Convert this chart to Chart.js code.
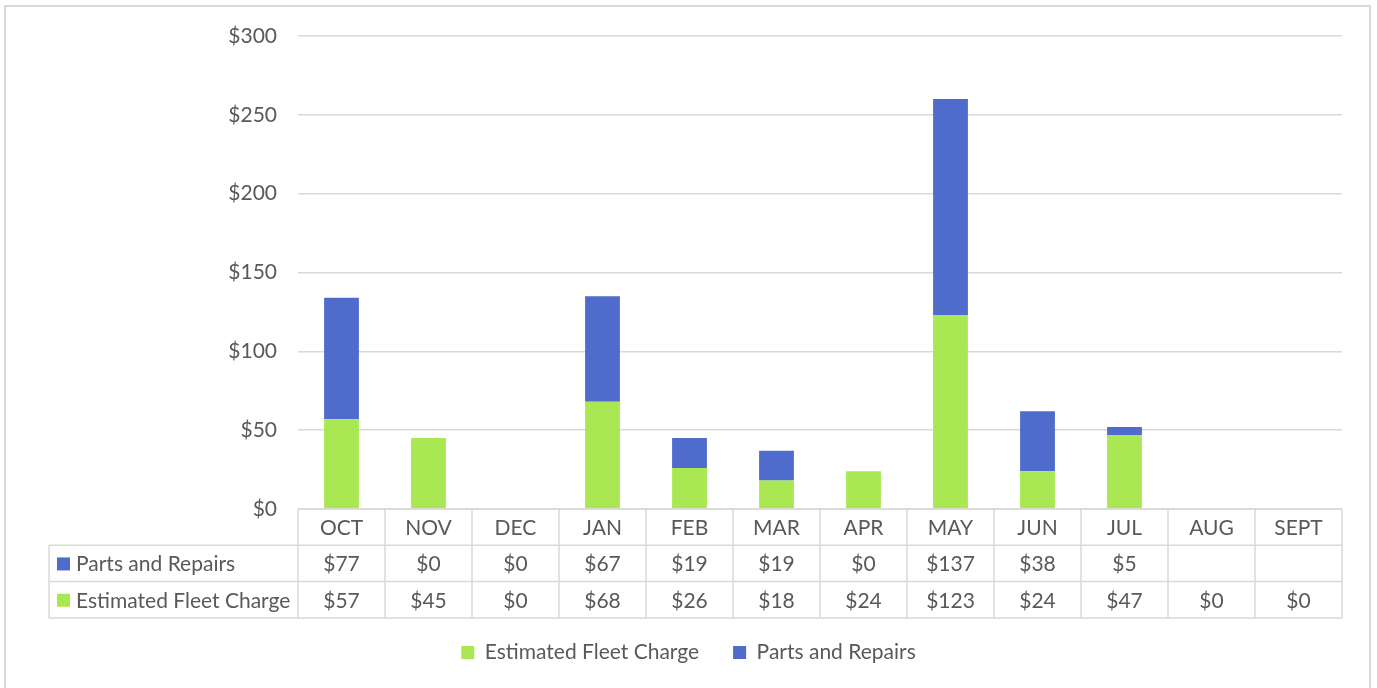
<!DOCTYPE html>
<html>
<head>
<meta charset="utf-8">
<script src="https://cdn.jsdelivr.net/npm/chart.js@4.4.1/dist/chart.umd.min.js"></script>
<style>
  html, body { margin: 0; padding: 0; background: #fff; }
  #wrap { width: 1377px; height: 688px; }
</style>
</head>
<body>
<div id="wrap"><canvas id="myChart" width="1377" height="688"></canvas></div>
<script>
// data
const months = ['OCT', 'NOV', 'DEC', 'JAN', 'FEB', 'MAR', 'APR', 'MAY', 'JUN', 'JUL', 'AUG', 'SEPT'];
const fleetCharge = [57, 45, 0, 68, 26, 18, 24, 123, 24, 47, 0, 0];
const partsRepairs = [77, 0, 0, 67, 19, 19, 0, 137, 38, 5, null, null];
const yTicks = [0, 50, 100, 150, 200, 250, 300];

const GREEN = '#a9e853';
const BLUE = '#4f6bcb';
const TEXT = '#595959';
const LINE = '#d9d9d9';
const FONT = 'Lato, "Open Sans", sans-serif';
const FSIZE = 21;

// data table under the plot + outer border
const tablePlugin = {
  id: 'dataTable',
  afterDraw(chart) {
    const c = chart.ctx;
    const x = chart.scales.x;
    const area = chart.chartArea;
    const step = (area.right - area.left) / months.length;
    const top = area.bottom;
    const rowH = 36.3;
    const tableLeft = 49;
    const rows = [
      { label: 'Parts and Repairs', color: BLUE, vals: partsRepairs },
      { label: 'Estimated Fleet Charge', color: GREEN, vals: fleetCharge }
    ];

    c.save();
    c.strokeStyle = LINE;
    c.lineWidth = 1.5;
    c.beginPath();
    // horizontal lines
    c.moveTo(area.left, top); c.lineTo(area.right, top);
    for (let r = 1; r <= 3; r++) {
      c.moveTo(tableLeft, top + r * rowH); c.lineTo(area.right, top + r * rowH);
    }
    // vertical lines
    for (let i = 0; i <= months.length; i++) {
      const px = area.left + i * step;
      c.moveTo(px, top); c.lineTo(px, top + 3 * rowH);
    }
    c.moveTo(tableLeft, top + rowH); c.lineTo(tableLeft, top + 3 * rowH);
    c.stroke();

    c.font = FSIZE + 'px ' + FONT;
    c.fillStyle = TEXT;
    c.textAlign = 'center';
    c.textBaseline = 'middle';
    months.forEach((m, i) => {
      c.fillText(m, x.getPixelForValue(i), top + rowH / 2 + 1);
    });
    rows.forEach((row, r) => {
      const cy = top + (r + 1) * rowH + rowH / 2 + 1;
      row.vals.forEach((v, i) => {
        if (v === null) return;
        c.fillStyle = TEXT;
        c.textAlign = 'center';
        c.fillText('$' + v, x.getPixelForValue(i), cy);
      });
      c.fillStyle = row.color;
      c.fillRect(tableLeft + 8, cy - 7, 13, 13);
      c.fillStyle = TEXT;
      c.textAlign = 'left';
      c.fillText(row.label, tableLeft + 27, cy);
    });

    // chart border (bottom edge runs off the picture)
    c.strokeStyle = LINE;
    c.lineWidth = 2;
    c.strokeRect(5, 6, chart.width - 12, chart.height + 10);
    c.restore();
  }
};

const ctx = document.getElementById('myChart');

var myChart = new Chart(ctx, {
  type: 'bar',
  data: {
    labels: months,
    datasets: [{
      label: 'Estimated Fleet Charge',
      data: fleetCharge,
      backgroundColor: GREEN,
      categoryPercentage: 1,
      barPercentage: 0.4
    }, {
      label: 'Parts and Repairs',
      data: partsRepairs,
      backgroundColor: BLUE,
      categoryPercentage: 1,
      barPercentage: 0.4
    }]
  },
  options: {
    responsive: false,
    animation: false,
    layout: { padding: { top: 36, right: 35, bottom: 15, left: 35 } },
    plugins: {
      legend: {
        position: 'bottom',
        labels: {
          color: TEXT,
          font: { family: FONT, size: FSIZE },
          boxWidth: 13,
          boxHeight: 13,
          padding: 34
        }
      },
      tooltip: { enabled: false }
    },
    scales: {
      x: {
        stacked: true,
        grid: { display: false },
        border: { display: false },
        ticks: { display: false },
        afterFit(scale) { scale.height = 99; }
      },
      y: {
        stacked: true,
        min: 0,
        max: 300,
        afterBuildTicks(scale) { scale.ticks = yTicks.map(v => ({ value: v })); },
        grid: { color: LINE, lineWidth: 1.5, drawTicks: false },
        border: { display: false },
        ticks: {
          color: TEXT,
          font: { family: FONT, size: FSIZE },
          padding: 21,
          callback: v => '$' + v
        },
        afterFit(scale) { scale.width = 263; }
      }
    }
  },
  plugins: [tablePlugin]
});
</script>
</body>
</html>
